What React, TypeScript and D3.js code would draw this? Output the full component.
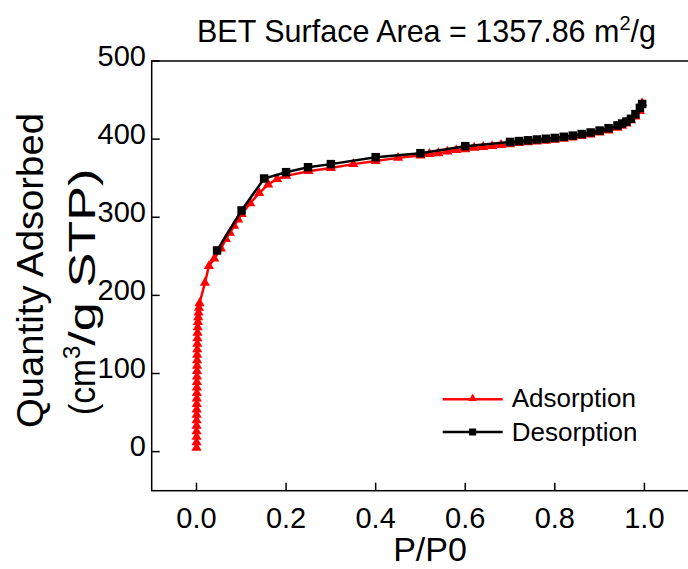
import React from "react";
import * as d3 from "d3";

const W = 688;
const H = 569;

const title = "BET Surface Area = 1357.86 m";
const xTicks = [0, 0.2, 0.4, 0.6, 0.8, 1.0];
const yTicks = [0, 100, 200, 300, 400, 500];

const adsP = [
  0.00005, 0.0001, 0.00015, 0.0002, 0.00025, 0.0003, 0.0004, 0.0005, 0.0006, 0.0007,
  0.0008, 0.0009, 0.001, 0.0011, 0.0012, 0.0013, 0.0014, 0.0015, 0.0017, 0.0019,
  0.0021, 0.0024, 0.0028, 0.0033, 0.0039, 0.0046, 0.0055, 0.0068,
  0.0188, 0.0277, 0.0396, 0.0545, 0.0656, 0.0745, 0.084, 0.093, 0.1007,
  0.12, 0.14, 0.16, 0.18, 0.2, 0.25, 0.3, 0.35, 0.4, 0.45, 0.5,
  0.52, 0.54, 0.56, 0.58, 0.6, 0.62, 0.64, 0.66, 0.68, 0.7, 0.72, 0.74, 0.76, 0.78,
  0.8, 0.82, 0.84, 0.86, 0.88, 0.9, 0.92, 0.94, 0.95, 0.96, 0.97, 0.98, 0.99, 0.995,
];
const adsQ = [
  5, 12, 19, 26, 33, 40, 47, 54, 61, 68,
  75, 82, 89, 96, 103, 110, 117, 124, 131, 138,
  145, 152, 159, 166, 172, 178, 184, 190,
  216, 237.5, 247, 260, 272, 280, 289, 297, 304,
  318, 331, 342, 349, 353, 359, 363, 368, 372, 376, 379,
  381, 382, 384, 386, 387, 389, 390, 391, 392.5, 393.5, 395, 396, 397, 398,
  399, 400.5, 402, 404, 406, 408.5, 411, 414.5, 417, 420, 424, 429, 436, 446,
];

const desP = [
  0.046, 0.1007, 0.151, 0.2, 0.249, 0.3, 0.4, 0.5, 0.6, 0.7,
  0.72, 0.74, 0.76, 0.78, 0.8, 0.82, 0.84, 0.86, 0.88, 0.9,
  0.92, 0.94, 0.95, 0.96, 0.97, 0.98, 0.99, 0.995,
];
const desQ = [
  257.5, 308.7, 349.6, 357.7, 364, 368, 376.9, 382, 391, 396.4,
  397.5, 398.5, 399.5, 400.5, 401.5, 403, 404.5, 406.5, 408.5, 411,
  414, 417.5, 420, 422.5, 426, 432, 440, 445,
];

const FONT = "'Liberation Sans', Arial, Helvetica, sans-serif";

export default function App() {
  const x = d3.scaleLinear().domain([-0.1, 1.1]).range([151.7, 689.2]);
  const y = d3.scaleLinear().domain([-50, 500]).range([490.7, 61]);

  const ads = adsP.map((p, i) => [p, adsQ[i]] as [number, number]);
  const des = desP.map((p, i) => [p, desQ[i]] as [number, number]);

  const line = d3
    .line<[number, number]>()
    .x((d) => x(d[0]))
    .y((d) => y(d[1]));

  const tri = d3.symbol().type(d3.symbolTriangle).size(45)()!;
  const triLeg = d3.symbol().type(d3.symbolTriangle).size(32)()!;
  const sq = d3.symbol().type(d3.symbolSquare).size(72)()!;
  const sqLeg = d3.symbol().type(d3.symbolSquare).size(49)()!;

  const [x0, x1] = x.range();
  const [y0, y1] = y.range();

  return (
    <svg
      width={W}
      height={H}
      style={{ position: "absolute", left: 0, top: 0, background: "#fff" }}
      fontFamily={FONT}
    >
      <rect x={0} y={0} width={W} height={H} fill="#fff" />
      {/* title */}
      <text x={197} y={42} fontSize={30.5} fill="#000">
        {title}
        <tspan fontSize={20} dy={-12}>2</tspan>
        <tspan dy={12}>/g</tspan>
      </text>

      {/* frame */}
      <rect
        x={x0}
        y={y1}
        width={x1 - x0}
        height={y0 - y1}
        fill="none"
        stroke="#000"
        strokeWidth={1.5}
      />

      {/* x ticks */}
      {xTicks.map((t) => (
        <g key={"x" + t}>
          <line x1={x(t)} x2={x(t)} y1={y0} y2={y0 - 8} stroke="#000" strokeWidth={1.5} />
          <text x={x(t)} y={527.5} fontSize={29} textAnchor="middle" fill="#000">
            {d3.format(".1f")(t)}
          </text>
        </g>
      ))}

      {/* y ticks */}
      {yTicks.map((t) => (
        <g key={"y" + t}>
          <line x1={x0} x2={x0 + 8} y1={y(t)} y2={y(t)} stroke="#000" strokeWidth={1.5} />
          <text x={146} y={y(t) + 4.5} fontSize={29} textAnchor="end" fill="#000">
            {t}
          </text>
        </g>
      ))}

      {/* axis titles */}
      <text x={430} y={561} fontSize={34} textAnchor="middle" fill="#000">
        P/P0
      </text>
      <text
        transform="translate(43,270.5) rotate(-90)"
        fontSize={37.5}
        textAnchor="middle"
        fill="#000"
        textLength={315}
        lengthAdjust="spacingAndGlyphs"
      >
        Quantity Adsorbed
      </text>
      <text
        transform="translate(95,415) rotate(-90)"
        fontSize={37}
        fill="#000"
      >
        <tspan textLength={56} lengthAdjust="spacingAndGlyphs">(cm</tspan>
        <tspan fontSize={24} dy={-15}>3</tspan>
        <tspan dy={15} textLength={177} lengthAdjust="spacingAndGlyphs">/g STP)</tspan>
      </text>

      {/* adsorption */}
      <path d={line(ads)!} fill="none" stroke="#ff0000" strokeWidth={2.5} />
      {ads.map((d, i) => (
        <path
          key={"a" + i}
          d={tri}
          transform={`translate(${x(d[0])},${y(d[1])})`}
          fill="#ff0000"
        />
      ))}

      {/* desorption */}
      <path d={line(des)!} fill="none" stroke="#000" strokeWidth={2.5} />
      {des.map((d, i) => (
        <path
          key={"d" + i}
          d={sq}
          transform={`translate(${x(d[0])},${y(d[1])})`}
          fill="#000"
        />
      ))}

      {/* legend */}
      <line x1={442.7} x2={502.7} y1={399.3} y2={399.3} stroke="#ff0000" strokeWidth={2.5} />
      <path d={triLeg} transform="translate(472.7,398.5)" fill="#ff0000" />
      <text x={511.7} y={406.7} fontSize={26} fill="#000">
        Adsorption
      </text>
      <line x1={442.7} x2={502.7} y1={432} y2={432} stroke="#000" strokeWidth={2.5} />
      <path d={sqLeg} transform="translate(472.7,432)" fill="#000" />
      <text x={511.7} y={441} fontSize={26} fill="#000">
        Desorption
      </text>
    </svg>
  );
}
